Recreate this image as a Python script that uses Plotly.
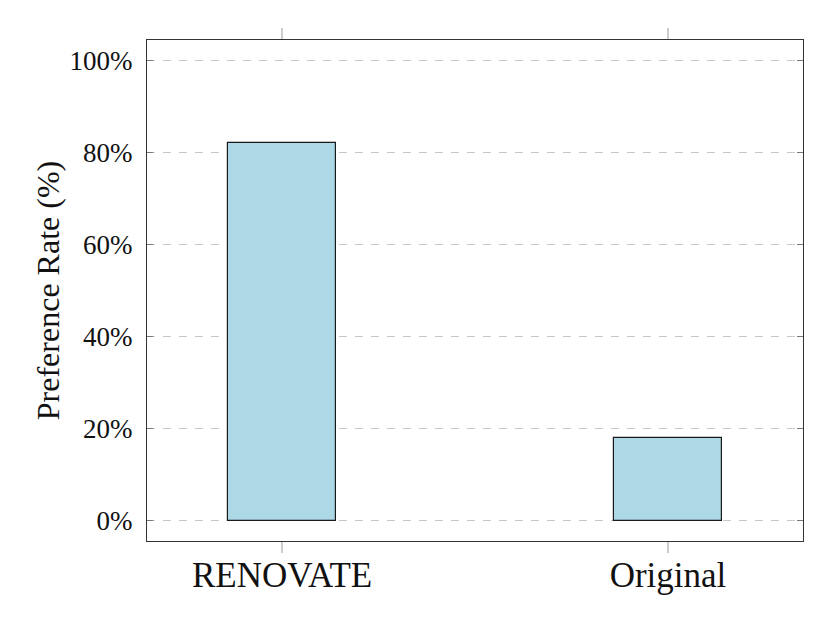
import plotly.graph_objects as go

categories = ["RENOVATE", "Original"]
preference_rate = [82, 18]
y_tick_values = [0, 20, 40, 60, 80, 100]
y_tick_labels = ["0%", "20%", "40%", "60%", "80%", "100%"]

FONT = "Liberation Serif, DejaVu Serif, serif"

fig = go.Figure()
fig.add_trace(go.Bar(
    x=categories,
    y=preference_rate,
    width=0.282,
    marker=dict(color="#ADD8E6", line=dict(color="#1a1a1a", width=1.2)),
    showlegend=False,
))

fig.update_layout(
    width=830, height=627,
    margin=dict(l=139, r=35, t=32, b=94),
    paper_bgcolor="white", plot_bgcolor="white",
    font=dict(family=FONT, color="#111111"),
    bargap=0,
)
fig.update_xaxes(
    type="category",
    range=[-0.35, 1.35],
    showline=True, linecolor="#333333", linewidth=1.2, mirror="allticks",
    ticks="outside", ticklen=11, tickcolor="#cccccc", tickwidth=1.5,
    tickfont=dict(size=35, family=FONT, color="#111111"),
    showgrid=False,
    ticklabelstandoff=-8,
)
fig.update_yaxes(
    range=[-4.35, 104.35],
    tickvals=y_tick_values, ticktext=y_tick_labels,
    showline=True, linecolor="#333333", linewidth=1.2, mirror="allticks",
    ticks="inside", ticklen=6, tickcolor="#777777", tickwidth=1,
    tickfont=dict(size=27, family=FONT, color="#111111"),
    showgrid=True, gridcolor="#c8c8c8", gridwidth=1, griddash="8px,8px",
    zeroline=False,
    ticklabelstandoff=8,
    title=dict(text="Preference Rate (%)", font=dict(size=32, family=FONT, color="#111111"), standoff=0),
)

fig.write_html("out.html")
